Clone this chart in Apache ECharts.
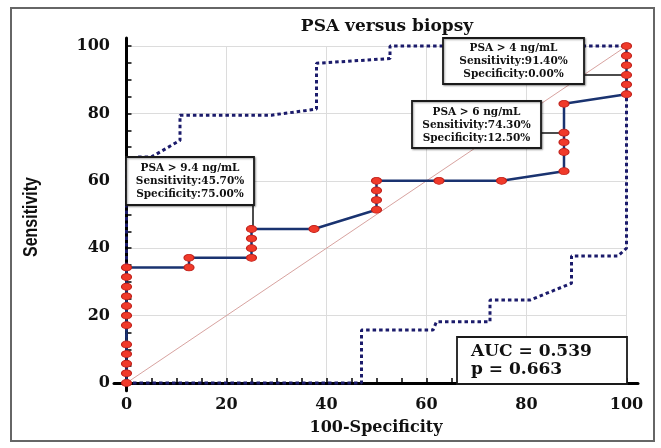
<!DOCTYPE html>
<html>
<head>
<meta charset="utf-8">
<script src="https://cdn.jsdelivr.net/npm/echarts@6/dist/echarts.min.js"></script>
<style>
  html, body { margin: 0; padding: 0; background: #fff; }
  #chart { width: 661px; height: 448px; }
</style>
</head>
<body>
<div id="chart"></div>
<script>
// ROC points: 100-Specificity (x) and Sensitivity (y)
const rocX = [0, 0, 0, 0, 0, 0, 0, 0, 0, 0, 0, 0, 12.5, 12.5, 25, 25, 25, 25, 37.5, 50, 50, 50, 50, 62.5, 75, 87.5, 87.5, 87.5, 87.5, 87.5, 100, 100, 100, 100, 100, 100];
const rocY = [0, 2.86, 5.71, 8.57, 11.43, 17.14, 20, 22.86, 25.71, 28.57, 31.43, 34.29, 34.29, 37.14, 37.14, 40, 42.86, 45.71, 45.71, 51.43, 54.29, 57.14, 60, 60, 60, 62.86, 68.57, 71.43, 74.29, 82.86, 85.71, 88.57, 91.43, 94.29, 97.14, 100];

// confidence bands (dotted)
const upperX = [0, 0, 2, 5, 10.7, 10.7, 29, 38, 38, 52.7, 52.7, 100];
const upperY = [0, 65.7, 67.1, 67.1, 72, 79.5, 79.5, 81.3, 94.9, 96.3, 100, 100];
const lowerX = [0, 47, 47, 61.3, 62, 72.7, 72.7, 80.7, 89, 89, 98.3, 100, 100];
const lowerY = [0, 0, 15.7, 15.7, 18.2, 18.2, 24.6, 24.6, 29.6, 37.7, 37.7, 40, 100];

const diagX = [0, 100];
const diagY = [0, 100];

const majorTicks = [0, 20, 40, 60, 80, 100];
const allTicks = [0, 5, 10, 15, 20, 25, 30, 35, 40, 45, 50, 55, 60, 65, 70, 75, 80, 85, 90, 95, 100];

const cutoffText = [
  "PSA > 9.4 ng/mL\nSensitivity:45.70%\nSpecificity:75.00%",
  "PSA > 4 ng/mL\nSensitivity:91.40%\nSpecificity:0.00%",
  "PSA > 6 ng/mL\nSensitivity:74.30%\nSpecificity:12.50%"
];
const aucText = "AUC = 0.539\np = 0.663";

const pairs = (xs, ys) => xs.map((x, i) => [x, ys[i]]);

const serif = "'DejaVu Serif', serif";
const navy = "#1b1b6b";

// boxes: [left, top, width, height] in pixels
const boxes = [
  [126, 157, 128, 48],
  [443, 38, 141, 46],
  [412, 101, 129, 47]
];
const aucBox = [457, 337, 170, 47];

const graphics = [
  { type: "rect", shape: { x: 11, y: 8, width: 643, height: 433 }, style: { fill: "none", stroke: "#666", lineWidth: 2 }, z: 0 },
  // y axis title, condensed
  {
    type: "text", x: 31, y: 217, rotation: Math.PI / 2, scaleX: 0.8,
    style: { text: "Sensitivity", font: "bold 20px 'Liberation Sans', sans-serif", fill: "#111", align: "center", verticalAlign: "middle" },
    z: 10
  }
];
boxes.forEach((b, i) => {
  graphics.push({
    type: "rect", shape: { x: b[0], y: b[1], width: b[2], height: b[3] },
    style: { fill: "#fff", stroke: "#1a1a1a", lineWidth: 1.8, shadowBlur: 2, shadowOffsetX: 1, shadowOffsetY: 1, shadowColor: "rgba(0,0,0,0.35)" },
    z: 100
  });
  graphics.push({
    type: "text", x: b[0] + b[2] / 2, y: b[1] + b[3] / 2 + 0.5,
    style: { text: cutoffText[i], font: "bold 10.5px " + serif, fill: "#111", align: "center", verticalAlign: "middle", lineHeight: 13 },
    z: 101
  });
});
graphics.push({
  type: "rect", shape: { x: aucBox[0], y: aucBox[1], width: aucBox[2], height: aucBox[3] },
  style: { fill: "#fff", stroke: "#1a1a1a", lineWidth: 1.8 }, z: 100
});
graphics.push({
  type: "text", x: aucBox[0] + 14, y: aucBox[1] + aucBox[3] / 2,
  style: { text: aucText, font: "bold 17px " + serif, fill: "#111", align: "left", verticalAlign: "middle", lineHeight: 18 },
  z: 101
});

const chart = echarts.init(document.getElementById("chart"));
chart.setOption({
  animation: false,
  backgroundColor: "#fff",
  title: {
    text: "PSA versus biopsy",
    left: 382, top: 13, textAlign: "center",
    textStyle: { fontFamily: serif, fontWeight: "bold", fontSize: 17, color: "#111" }
  },
  grid: [
    { left: 114, right: 23, top: 38, bottom: 57.3 },
    { left: 126.5, right: 34.5, top: 46, bottom: 65 }
  ],
  xAxis: [
    {
      type: "value", gridIndex: 0, min: -2.5, max: 102.3,
      name: "100-Specificity", nameLocation: "middle", nameGap: 29,
      nameTextStyle: { fontFamily: serif, fontWeight: "bold", fontSize: 16, color: "#111" },
      axisLine: { lineStyle: { color: "#000", width: 3 } },
      axisTick: { inside: true, length: 5, customValues: allTicks, lineStyle: { color: "#000", width: 1.5 } },
      axisLabel: { customValues: majorTicks, margin: 6, fontFamily: serif, fontWeight: "bold", fontSize: 16, color: "#111" },
      splitLine: { show: false }
    },
    {
      type: "value", gridIndex: 1, min: 0, max: 100, interval: 20,
      axisLine: { show: false }, axisTick: { show: false }, axisLabel: { show: false },
      splitLine: { show: true, lineStyle: { color: "#dcdcdc", width: 1 } }
    }
  ],
  yAxis: [
    {
      type: "value", gridIndex: 0, min: -2.3, max: 102.4,
      axisLine: { lineStyle: { color: "#000", width: 3 } },
      axisTick: { inside: true, length: 5, customValues: allTicks, lineStyle: { color: "#000", width: 1.5 } },
      axisLabel: { customValues: majorTicks, margin: 4, fontFamily: serif, fontWeight: "bold", fontSize: 16, color: "#111" },
      splitLine: { show: false }
    },
    {
      type: "value", gridIndex: 1, min: 0, max: 100, interval: 20,
      axisLine: { show: false }, axisTick: { show: false }, axisLabel: { show: false },
      splitLine: { show: true, lineStyle: { color: "#dcdcdc", width: 1 } }
    }
  ],
  graphic: graphics,
  series: [
    {
      type: "line", xAxisIndex: 0, yAxisIndex: 0, data: pairs(upperX, upperY),
      symbol: "none", lineStyle: { color: navy, width: 3, type: [3.5, 3] }, z: 2
    },
    {
      type: "line", xAxisIndex: 0, yAxisIndex: 0, data: pairs(lowerX, lowerY),
      symbol: "none", lineStyle: { color: navy, width: 3, type: [3.5, 3] }, z: 2
    },
    {
      type: "line", xAxisIndex: 0, yAxisIndex: 0, data: pairs(diagX, diagY),
      symbol: "none", lineStyle: { color: "#d8a3a0", width: 1 }, z: 3
    },
    {
      type: "line", xAxisIndex: 0, yAxisIndex: 0, data: pairs(rocX, rocY),
      symbol: "circle", symbolSize: [10, 7],
      itemStyle: { color: "#f03a2a", borderColor: "#c0201a", borderWidth: 1 },
      lineStyle: { color: "#1a3370", width: 2.5 }, z: 5,
      markLine: {
        silent: true, symbol: "none", z: 4,
        label: { show: false },
        lineStyle: { color: "#111", width: 1.5, type: "solid" },
        data: [
          [{ coord: [25.2, 52.5] }, { coord: [25.2, 45.71] }],
          [{ coord: [91.5, 91.43] }, { coord: [100, 91.43] }],
          [{ coord: [82.9, 74.29] }, { coord: [87.5, 74.29] }]
        ]
      }
    }
  ]
});
</script>
</body>
</html>
